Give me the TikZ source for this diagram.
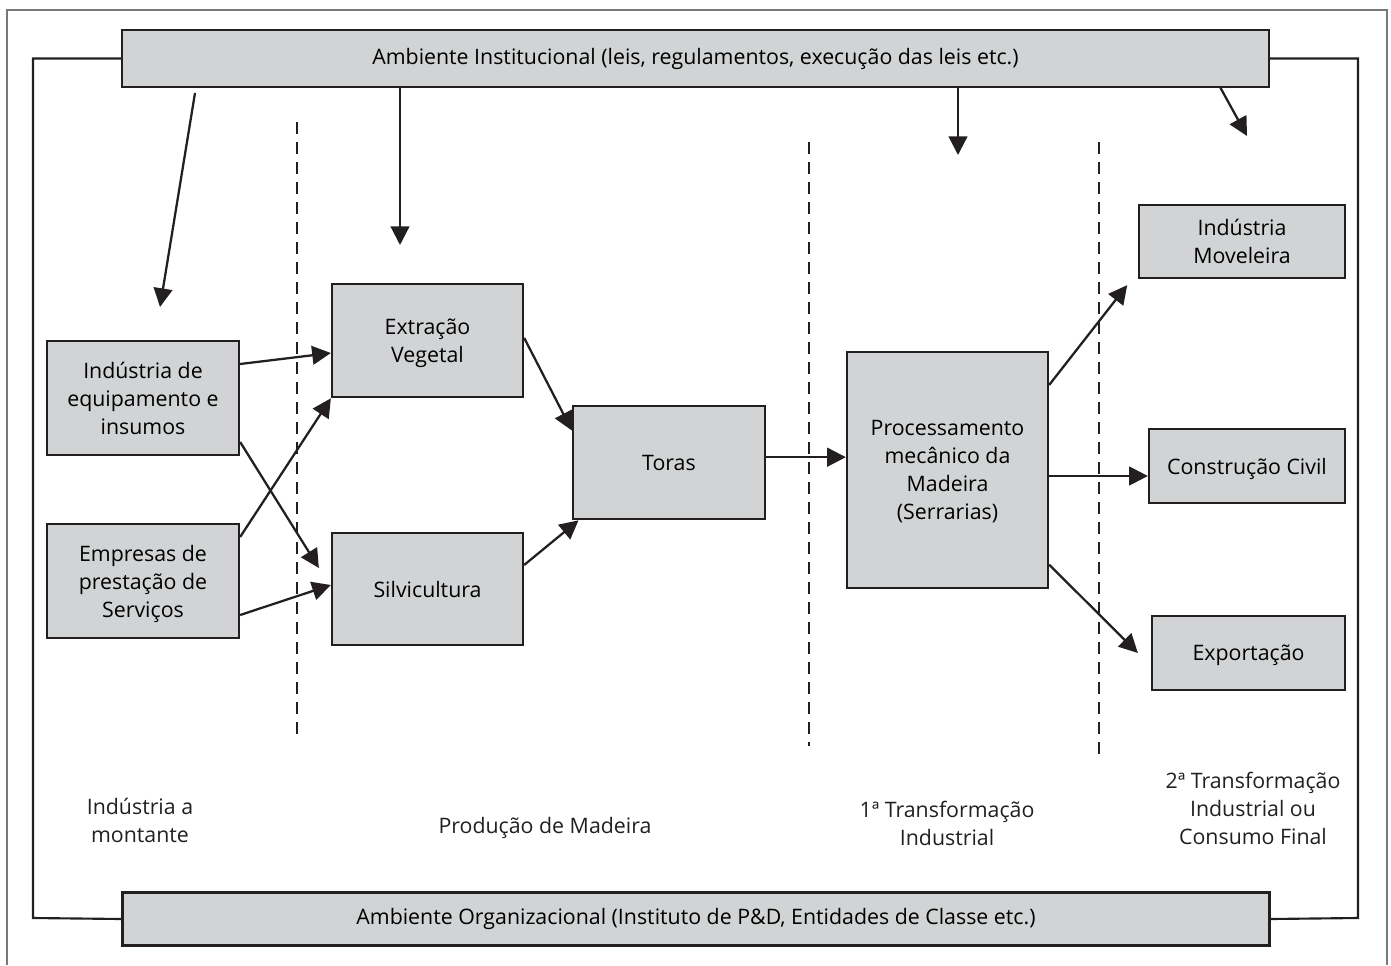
\documentclass[tikz,border=0pt]{standalone}
\usepackage{fontspec}
\setmainfont{Open Sans}
\usepackage{tikz}
\usetikzlibrary{arrows.meta,positioning}
\definecolor{boxgray}{RGB}{209,211,212}
\definecolor{linegray}{RGB}{35,31,32}
\definecolor{edgegray}{RGB}{120,120,120}

\begin{document}
\begin{tikzpicture}[
  x=0.75pt,y=-0.75pt,
  font=\fontsize{16}{21}\selectfont,
  block/.style={draw=linegray,fill=boxgray,line width=1.7pt,align=center,inner sep=2pt,text depth=-1pt},
  bar/.style={draw=linegray,fill=boxgray,line width=1.9pt,minimum width=860pt,align=center},
  arr/.style={-{Triangle[length=14pt,width=14pt]},line width=1.7pt,color=linegray},
  frame/.style={line width=1.6pt,color=linegray},
  sep/.style={line width=1.7pt,color=linegray,dash pattern=on 9pt off 6pt},
  tag/.style={align=center,text=linegray},
]
\useasboundingbox (0,0) rectangle (1391,966);

% moldura externa
\draw[edgegray,line width=0.8pt] (7,965) |- (1387,10) -- (1387,965);

% Ambientes
\node[bar,minimum height=42.75pt] (inst) at (695.5,58.5) {Ambiente Institucional (leis, regulamentos, execução das leis etc.)};
\node[bar,minimum height=40pt] (org) at (696,919) {Ambiente Organizacional (Instituto de P\&D, Entidades de Classe etc.)};

% moldura interna
\draw[frame] (inst.west) -| (33,918) -- (org.west);
\draw[frame] (inst.east) -| (1358,918) -- (org.east);

% Separadores
\draw[sep] (297,122) -- (297,736);
\draw[sep] (809,142) -- (809,746);
\draw[sep] (1099,142) -- (1099,760);

% Indústria a montante
\node[block,minimum width=144pt,minimum height=85.5pt] (equip) at (143,398) {Indústria de\\equipamento e\\insumos};
\node[block,minimum width=144pt,minimum height=85.5pt] (serv) at (143,581) {Empresas de\\prestação de\\Serviços};

% Produção de Madeira
\node[block,minimum width=143.25pt,minimum height=85pt] (extr) at (427.5,340.5) {Extração\\Vegetal};
\node[block,minimum width=143.25pt,minimum height=84pt] (silv) at (427.5,589) {Silvicultura};
\node[block,minimum width=144pt,minimum height=85pt] (toras) at (669,462.5) {Toras};

% 1a transformação
\node[block,minimum width=150.75pt,minimum height=177pt] (proc) at (947.5,470) {Processamento\\mecânico da\\Madeira\\(Serrarias)};

% 2a transformação
\node[block,minimum width=154.5pt,minimum height=54.75pt] (move) at (1242,241.5) {Indústria\\Moveleira};
\node[block,minimum width=147pt,minimum height=55.5pt] (civil) at (1247,466) {Construção Civil};
\node[block,minimum width=144.75pt,minimum height=55.5pt] (expo) at (1248.5,653) {Exportação};

% Rótulos das etapas
\node[tag] (mont) at (140,820) {Indústria a\\montante};
\node[tag] (prod) at (545,828) {Produção de Madeira};
\node[tag] (trans1) at (947,823) {1ª Transformação\\Industrial};
\node[tag] (trans2) at (1253,808) {2ª Transformação\\Industrial ou\\Consumo Final};

% Setas do ambiente institucional
\coordinate (s1) at (195,93);
\coordinate (t1) at (160,307);
\coordinate (t2) at (400,245);
\coordinate (t3) at (958,155);
\coordinate (s4) at (1220,87);
\coordinate (t4) at (1247,136);
\draw[arr] (s1) -- (t1);
\draw[arr] (inst.south -| t2) -- (t2);
\draw[arr] (inst.south -| t3) -- (t3);
\draw[arr] (s4) -- (t4);

% Fluxos
\draw[arr] ([yshift=25.5pt]equip.east) -- ([yshift=-9.4pt]extr.west);
\draw[arr] ([yshift=33pt]serv.east) -- (extr.south west);
\draw[arr] ([yshift=-33pt]equip.east) -- ([xshift=-9pt,yshift=15.75pt]silv.west);
\draw[arr] ([yshift=-25.5pt]serv.east) -- ([yshift=3pt]silv.west);
\draw[arr] ([yshift=2pt]extr.east) -- ([yshift=24pt]toras.west);
\draw[arr] ([yshift=18pt]silv.east) -- ([xshift=5pt]toras.south west);
\draw[arr] ([yshift=4pt]toras.east) -- ([yshift=4pt]toras.east -| proc.west);
\draw[arr] ([yshift=63.75pt]proc.east) -- ([xshift=-8pt,yshift=-4.5pt]move.south west);
\draw[arr] ([yshift=-7.5pt]civil.west -| proc.east) -- ([yshift=-7.5pt]civil.west);
\draw[arr] ([yshift=-71pt]proc.east) -- ([xshift=-9.75pt]expo.west);

\end{tikzpicture}
\end{document}
